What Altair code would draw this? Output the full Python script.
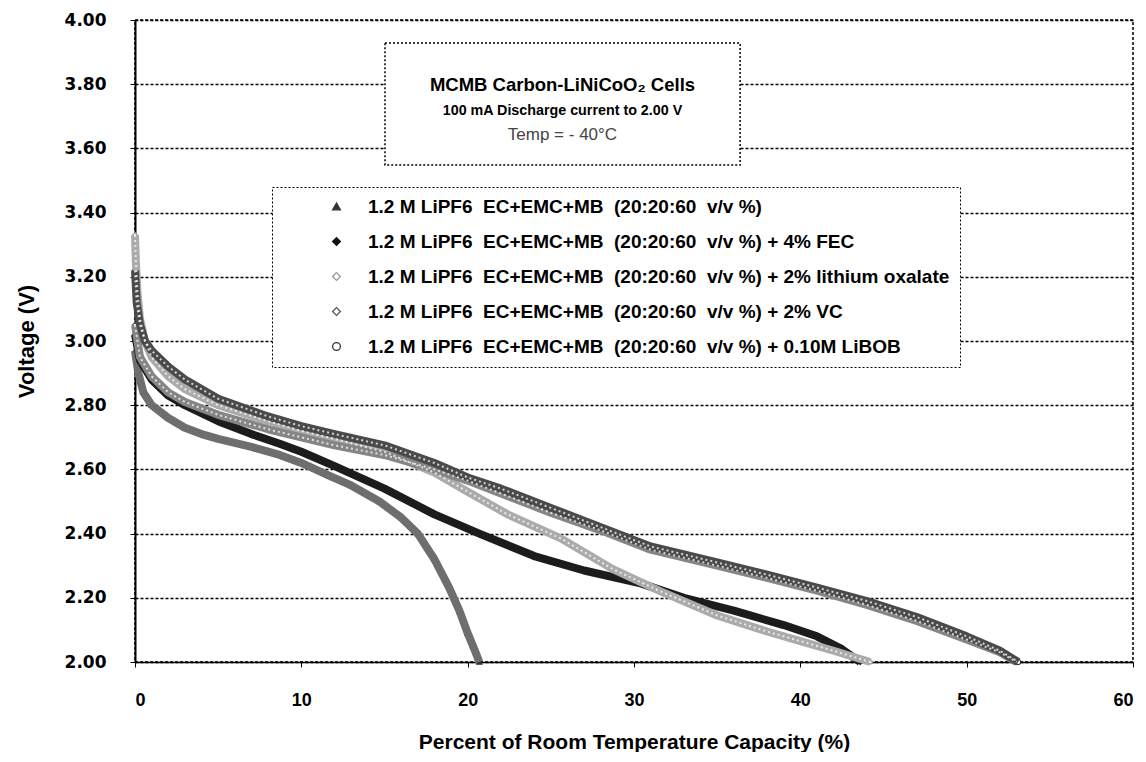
import altair as alt
import pandas as pd

# ---------------- data ----------------
series_names = [
    "1.2 M LiPF6 \u00a0EC+EMC+MB \u00a0(20:20:60 \u00a0v/v %)",
    "1.2 M LiPF6 \u00a0EC+EMC+MB \u00a0(20:20:60 \u00a0v/v %) + 4% FEC",
    "1.2 M LiPF6 \u00a0EC+EMC+MB \u00a0(20:20:60 \u00a0v/v %) + 2% lithium oxalate",
    "1.2 M LiPF6 \u00a0EC+EMC+MB \u00a0(20:20:60 \u00a0v/v %) + 2% VC",
    "1.2 M LiPF6 \u00a0EC+EMC+MB \u00a0(20:20:60 \u00a0v/v %) + 0.10M LiBOB",
]

base_x = [0, 0.2, 0.5, 1, 2, 3, 4, 5, 7, 8.7, 10, 11.7, 13, 14.7, 16, 17, 18, 18.9, 19.5, 20, 20.4, 20.7]
base_v = [2.97, 2.90, 2.84, 2.80, 2.76, 2.73, 2.71, 2.695, 2.67, 2.645, 2.62, 2.58, 2.55, 2.50, 2.45, 2.40, 2.32, 2.23, 2.16, 2.09, 2.04, 2.00]

fec_x = [0, 0.3, 1, 2, 3, 5, 7, 8.7, 10, 12, 15, 18, 20.7, 24, 27, 30.4, 33, 36, 39, 41, 42.5, 43.6]
fec_v = [3.02, 2.94, 2.88, 2.83, 2.80, 2.75, 2.71, 2.68, 2.655, 2.61, 2.54, 2.46, 2.40, 2.33, 2.285, 2.245, 2.20, 2.16, 2.115, 2.08, 2.04, 2.00]

ox_x = [0, 0.05, 0.15, 0.3, 0.6, 1, 2, 3, 5, 8, 10, 12, 15, 18, 19.5, 22.4, 25.6, 28.7, 31.6, 35, 38, 40, 42, 44.2]
ox_v = [3.33, 3.25, 3.15, 3.07, 3.00, 2.95, 2.89, 2.85, 2.80, 2.75, 2.72, 2.695, 2.655, 2.59, 2.545, 2.46, 2.385, 2.29, 2.22, 2.145, 2.095, 2.065, 2.035, 2.00]

vc_x = [0, 0.3, 1, 2, 3, 5, 8, 10, 12, 15, 18, 20, 22, 25, 28, 31, 35, 38, 41, 44, 47, 50, 52, 53.0]
vc_v = [3.05, 2.95, 2.89, 2.84, 2.81, 2.77, 2.725, 2.70, 2.675, 2.645, 2.60, 2.565, 2.525, 2.465, 2.41, 2.35, 2.30, 2.262, 2.222, 2.178, 2.128, 2.07, 2.03, 2.00]

libob_x = [0, 0.1, 0.3, 0.6, 1, 2, 3, 5, 8, 10, 12, 15, 18, 20, 22, 25, 28, 31, 35, 38, 41, 44, 47, 50, 52, 53.1]
libob_v = [3.22, 3.12, 3.05, 3.00, 2.97, 2.92, 2.88, 2.82, 2.765, 2.735, 2.71, 2.675, 2.62, 2.575, 2.54, 2.48, 2.42, 2.36, 2.31, 2.272, 2.232, 2.19, 2.14, 2.08, 2.035, 2.00]

x_ticks = [0, 10, 20, 30, 40, 50, 60]
y_ticks = [2.0, 2.2, 2.4, 2.6, 2.8, 3.0, 3.2, 3.4, 3.6, 3.8, 4.0]

title_lines = ["MCMB Carbon-LiNiCoO\u2082 Cells", "100 mA Discharge current to 2.00 V", "Temp = - 40\u00b0C"]
title_box_x = [15.03, 36.38]
title_box_v = [3.548, 3.928]
title_text_x = [25.7, 25.7, 25.7]
title_text_v = [3.797, 3.715, 3.643]

# ---------------- styling ----------------
line_colors = ["#6e6e6e", "#1c1c1c", "#ababab", "#858585", "#4a4a4a"]
stroke_colors = ["#333333", "#111111", "#999999", "#555555", "#333333"]
fill_colors = ["#333333", "#111111", "#ffffff", "#ffffff", "#ffffff"]
shapes = ["triangle-up", "diamond", "diamond", "diamond", "circle"]
open_series = series_names[2:]
FONT = "Liberation Sans"

rows = []
for name, xs, vs in zip(series_names,
                        [base_x, fec_x, ox_x, vc_x, libob_x],
                        [base_v, fec_v, ox_v, vc_v, libob_v]):
    for i, (a, b) in enumerate(zip(xs, vs)):
        rows.append({"series": name, "x": a, "v": b, "order": i})
df = pd.DataFrame(rows)
df_open = df[df["series"].isin(open_series)]

xscale = alt.Scale(domain=[0, 60], nice=False, zero=False)
yscale = alt.Scale(domain=[2, 4], nice=False, zero=False)

xaxis = alt.Axis(values=x_ticks, format="d", title="Percent of Room Temperature Capacity (%)",
                 labelFont=FONT, labelFontSize=18, labelFontWeight="bold", labelColor="black",
                 labelPadding=24, tickSize=5, tickColor="black",
                 titleFont=FONT, titleFontSize=21, titleFontWeight="bold", titleColor="black",
                 titlePadding=22, domainColor="black", domainWidth=1.5,
                 grid=False)
yaxis = alt.Axis(values=y_ticks, format=".2f", title="Voltage (V)",
                 labelFont="DejaVu Sans", labelFontSize=17, labelFontWeight="bold", labelColor="black",
                 labelPadding=24, tickSize=5, tickColor="black",
                 titleFont=FONT, titleFontSize=22, titleFontWeight="bold", titleColor="black",
                 titlePadding=26, domainColor="black", domainWidth=2,
                 grid=True, gridColor="black", gridDash=[3, 2], gridWidth=1.3, gridOpacity=1)

lines = alt.Chart(df).mark_line(strokeWidth=8, strokeJoin="round").encode(
    x=alt.X("x:Q", scale=xscale, axis=xaxis),
    y=alt.Y("v:Q", scale=yscale, axis=yaxis),
    color=alt.Color("series:N", scale=alt.Scale(domain=series_names, range=line_colors), legend=None),
    order="order:Q",
    detail="series:N",
)

# light dotted core for the open-marker series, imitating the hollow markers
cores = alt.Chart(df_open).mark_line(strokeWidth=2, strokeDash=[2, 3], color="white", opacity=0.75).encode(
    x=alt.X("x:Q", scale=xscale),
    y=alt.Y("v:Q", scale=yscale),
    detail="series:N",
    order="order:Q",
)

leg = dict(orient="none", legendX=137, legendY=167, title=None)
points = alt.Chart(df).mark_point(size=25, strokeWidth=1.2, opacity=1).encode(
    x=alt.X("x:Q", scale=xscale),
    y=alt.Y("v:Q", scale=yscale),
    stroke=alt.Stroke("series:N", scale=alt.Scale(domain=series_names, range=stroke_colors),
                      legend=alt.Legend(**leg)),
    fill=alt.Fill("series:N", scale=alt.Scale(domain=series_names, range=fill_colors),
                  legend=alt.Legend(**leg)),
    shape=alt.Shape("series:N", scale=alt.Scale(domain=series_names, range=shapes),
                    legend=alt.Legend(**leg)),
)

box_df = pd.DataFrame({"x1": [title_box_x[0]], "x2": [title_box_x[1]],
                       "v1": [title_box_v[0]], "v2": [title_box_v[1]]})
box = alt.Chart(box_df).mark_rect(fill="white", stroke="black", strokeWidth=1.5, strokeDash=[2, 2]).encode(
    x=alt.X("x1:Q", scale=xscale), x2="x2:Q",
    y=alt.Y("v1:Q", scale=yscale), y2="v2:Q",
)

t_df = pd.DataFrame({"x": title_text_x, "v": title_text_v, "t": title_lines})
t1 = alt.Chart(t_df.iloc[[0]]).mark_text(font=FONT, fontSize=18.5, fontWeight="bold", color="black").encode(
    x=alt.X("x:Q", scale=xscale), y=alt.Y("v:Q", scale=yscale), text="t:N")
t2 = alt.Chart(t_df.iloc[[1]]).mark_text(font=FONT, fontSize=14.3, fontWeight="bold", color="black").encode(
    x=alt.X("x:Q", scale=xscale), y=alt.Y("v:Q", scale=yscale), text="t:N")
t3 = alt.Chart(t_df.iloc[[2]]).mark_text(font=FONT, fontSize=17, color="#444444").encode(
    x=alt.X("x:Q", scale=xscale), y=alt.Y("v:Q", scale=yscale), text="t:N")

chart = alt.layer(points, lines, cores, box, t1, t2, t3).properties(
    width=998, height=642,
    padding={"left": 127, "top": 12, "right": 5, "bottom": 90},
    autosize=alt.AutoSizeParams(type="none"),
    background="white",
).configure_view(
    stroke="black", strokeWidth=1.5, strokeDash=[3, 2]
).configure_legend(
    strokeColor="black", strokeDash=[2, 2], fillColor="white", padding=10,
    labelFont=FONT, labelFontSize=19, labelFontWeight="bold", labelColor="black",
    labelLimit=900, symbolSize=60, symbolStrokeWidth=1.3, rowPadding=15,
    symbolOffset=45, labelOffset=22,
)

chart.save("out.html", embed_options={"renderer": "svg", "actions": False})
